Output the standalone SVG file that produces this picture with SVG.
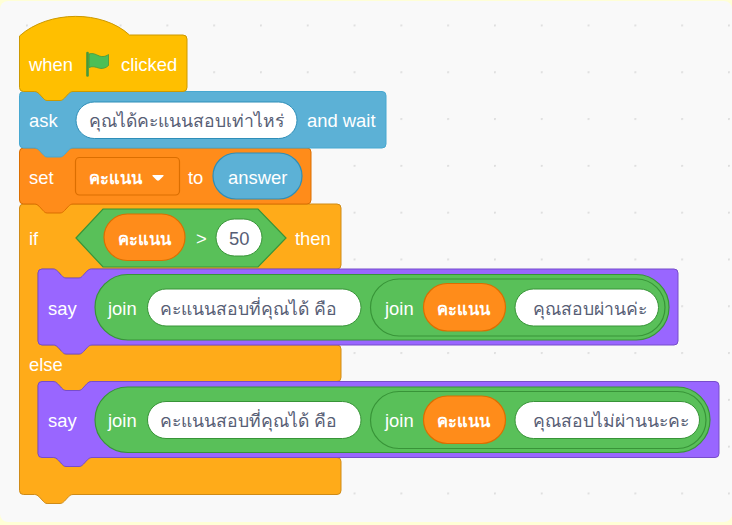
<svg xmlns="http://www.w3.org/2000/svg" width="732" height="525" viewBox="0 0 732 525">
<style>
text{font-family:"Liberation Sans",Arial,"DejaVu Sans",sans-serif;font-size:18.4px;fill:#fff}
.t{font-size:17.6px}
.in{fill:#575e75}
.b{font-weight:bold;font-size:16.5px}
.w{fill:#fff;stroke:#389438;stroke-width:1}
.g{fill:#59c059;stroke:#389438;stroke-width:1.2}
.o{fill:#ff8c1a;stroke:#db6e00;stroke-width:1.2}
.c{fill:#ffab19;stroke:#cf8b17;stroke-width:1}
.p{fill:#9966ff;stroke:#774dcb;stroke-width:1}
</style>
<defs>
<pattern id="dots" x="26" y="24.5" width="46.8" height="46.8" patternUnits="userSpaceOnUse">
<circle cx="0.8" cy="0.8" r="1.2" fill="#dedede"/>
</pattern>
</defs>
<rect width="732" height="525" fill="#ffffd6"/>
<rect x="0" y="1" width="732" height="521" rx="8" fill="#f9f9f9"/>
<rect x="0" y="1" width="732" height="521" rx="8" fill="url(#dots)"/>

<g id="if-block">
<path class="c" d="M19.5 208 a4 4 0 0 1 4 -4 H337 a4 4 0 0 1 4 4 V265 a4 4 0 0 1 -4 4 H92 c-2 0 -3 1 -4.500 2.200 l-4 4.400 c-1 1 -2.400 2.400 -4.400 2.400 h-13 c-2 0 -3 -1.400 -4 -2.400 l-4 -4.400 c-1.500 -1.200 -2.500 -2.200 -4.500 -2.200 H42 a4 4 0 0 0 -4 4 V341 a4 4 0 0 0 4 4 H53 c2 0 3 1 4.500 2.200 l4 4.400 c1 1 2.400 2.400 4.400 2.400 h13 c2 0 3 -1.400 4 -2.400 l4 -4.400 c1.500 -1.200 2.500 -2.200 4.500 -2.200 H337 a4 4 0 0 1 4 4 V377.500 a4 4 0 0 1 -4 4 H92 c-2 0 -3 1 -4.500 2.200 l-4 4.400 c-1 1 -2.400 2.400 -4.400 2.400 h-13 c-2 0 -3 -1.400 -4 -2.400 l-4 -4.400 c-1.500 -1.200 -2.500 -2.200 -4.500 -2.200 H42 a4 4 0 0 0 -4 4 V453.500 a4 4 0 0 0 4 4 H53 c2 0 3 1 4.500 2.200 l4 4.400 c1 1 2.400 2.400 4.400 2.400 h13 c2 0 3 -1.400 4 -2.400 l4 -4.400 c1.500 -1.200 2.500 -2.200 4.500 -2.200 H337 a4 4 0 0 1 4 4 V490.500 a4 4 0 0 1 -4 4 H73 c-2 0 -3 1 -4.500 2.200 l-4 4.400 c-1 1 -2.400 2.400 -4.400 2.400 h-13 c-2 0 -3 -1.400 -4 -2.400 l-4 -4.400 c-1.500 -1.200 -2.500 -2.200 -4.500 -2.200 H23.500 a4 4 0 0 1 -4 -4 Z"/>
<text x="29" y="245">if</text>
<polygon class="g" points="76,238 103,209 258,209 286,238 258,267 103,267"/>
<rect class="o" x="104" y="214" width="81" height="46.500" rx="23.250"/>
<text class="b" x="118" y="245">คะแนน</text>
<text x="196" y="245">&gt;</text>
<rect class="w" x="216" y="219" width="46" height="37" rx="18.500"/>
<text class="in" x="229" y="245">50</text>
<text x="295" y="245">then</text>
<text x="29" y="371">else</text>
</g>

<g id="set-block">
<path fill="#ff8c1a" stroke="#db6e00" d="M19.5 152 a4 4 0 0 1 4 -4 H307 a4 4 0 0 1 4 4 V200 a4 4 0 0 1 -4 4 H73 c-2 0 -3 1 -4.500 2.200 l-4 4.400 c-1 1 -2.400 2.400 -4.400 2.400 h-13 c-2 0 -3 -1.400 -4 -2.400 l-4 -4.400 c-1.500 -1.200 -2.500 -2.200 -4.500 -2.200 H23.500 a4 4 0 0 1 -4 -4 Z"/>
<text x="29" y="184">set</text>
<rect x="75.500" y="157.500" width="104" height="37.500" rx="4" fill="#ff8c1a" stroke="#db6e00" stroke-width="1.200"/>
<text class="b" x="89" y="184">คะแนน</text>
<path d="M153 175 h10 q1 0 .5 1 l-4 4 q-1.500 1.500 -3 0 l-4 -4 q-.5 -1 .5 -1 Z" fill="#fff"/>
<text x="188" y="184">to</text>
<rect x="213" y="153" width="89" height="46" rx="23" fill="#5cb1d6" stroke="#2e8eb8" stroke-width="1.200"/>
<text x="228" y="184">answer</text>
</g>

<g id="ask-block">
<path fill="#5cb1d6" stroke="#47a8d1" d="M19.5 95.500 a4 4 0 0 1 4 -4 H382 a4 4 0 0 1 4 4 V144 a4 4 0 0 1 -4 4 H73 c-2 0 -3 1 -4.500 2.200 l-4 4.400 c-1 1 -2.400 2.400 -4.400 2.400 h-13 c-2 0 -3 -1.400 -4 -2.400 l-4 -4.400 c-1.500 -1.200 -2.500 -2.200 -4.500 -2.200 H23.500 a4 4 0 0 1 -4 -4 Z"/>
<text x="29" y="127">ask</text>
<rect x="76" y="102" width="221" height="36.500" rx="18.250" fill="#fff" stroke="#2e8eb8"/>
<text class="in t" x="89" y="127">คุณได้คะแนนสอบเท่าไหร่</text>
<text x="307" y="127">and wait</text>
</g>

<g id="hat-block">
<path fill="#ffbf00" stroke="#cc9900" d="M19.500 36 c29 -26 83 -26 110 -1 H183 a4 4 0 0 1 4 4 V87.500 a4 4 0 0 1 -4 4 H73 c-2 0 -3 1 -4.500 2.200 l-4 4.400 c-1 1 -2.400 2.400 -4.400 2.400 h-13 c-2 0 -3 -1.400 -4 -2.400 l-4 -4.400 c-1.500 -1.200 -2.500 -2.200 -4.500 -2.200 H23.500 a4 4 0 0 1 -4 -4 Z"/>
<text x="29" y="71">when</text>
<path d="M87.500 53 V75.500" stroke="#45993d" stroke-width="2.600" stroke-linecap="round" fill="none"/>
<path d="M89 54 c6 -2 9 3 14 2.500 c2 0 4 -1 5.500 -2 v11 c-3 3 -7 3.500 -10 2.500 c-3 -1 -6 -2 -9.500 -.5 Z" fill="#4cbf56" stroke="#45993d" stroke-width=".8"/>
<text x="121" y="71">clicked</text>
</g>

<g id="say-pass">
<path class="p" d="M38 273 a4 4 0 0 1 4 -4 H53 c2 0 3 1 4.500 2.200 l4 4.400 c1 1 2.400 2.400 4.400 2.400 h13 c2 0 3 -1.400 4 -2.400 l4 -4.400 c1.500 -1.200 2.500 -2.200 4.500 -2.200 H674 a4 4 0 0 1 4 4 V341 a4 4 0 0 1 -4 4 H92 c-2 0 -3 1 -4.500 2.200 l-4 4.400 c-1 1 -2.400 2.400 -4.400 2.400 h-13 c-2 0 -3 -1.400 -4 -2.400 l-4 -4.400 c-1.500 -1.200 -2.500 -2.200 -4.500 -2.200 H42 a4 4 0 0 1 -4 -4 Z"/>
<text x="48" y="315">say</text>
<rect class="g" x="95" y="274.500" width="574" height="65.500" rx="32.750"/>
<text x="108" y="315">join</text>
<rect class="w" x="147.500" y="289" width="213.500" height="37" rx="18.500"/>
<text class="in t" x="160" y="315">คะแนนสอบที่คุณได้ คือ</text>
<rect class="g" x="370.500" y="279" width="294.500" height="57" rx="28.500"/>
<text x="385" y="315">join</text>
<rect class="o" x="423.500" y="283.500" width="82" height="47.500" rx="23.750"/>
<text class="b" x="437" y="315">คะแนน</text>
<rect class="w" x="515" y="289" width="143.500" height="37" rx="18.500"/>
<text class="in t" x="533" y="315">คุณสอบผ่านค่ะ</text>
</g>

<g id="say-fail">
<path class="p" d="M38 385.500 a4 4 0 0 1 4 -4 H53 c2 0 3 1 4.500 2.200 l4 4.400 c1 1 2.400 2.400 4.400 2.400 h13 c2 0 3 -1.400 4 -2.400 l4 -4.400 c1.500 -1.200 2.500 -2.200 4.500 -2.200 H715 a4 4 0 0 1 4 4 V453.500 a4 4 0 0 1 -4 4 H92 c-2 0 -3 1 -4.500 2.200 l-4 4.400 c-1 1 -2.400 2.400 -4.400 2.400 h-13 c-2 0 -3 -1.400 -4 -2.400 l-4 -4.400 c-1.500 -1.200 -2.500 -2.200 -4.500 -2.200 H42 a4 4 0 0 1 -4 -4 Z"/>
<text x="48" y="427">say</text>
<rect class="g" x="95" y="387" width="615" height="65.500" rx="32.750"/>
<text x="108" y="427">join</text>
<rect class="w" x="147.500" y="401.500" width="213.500" height="37" rx="18.500"/>
<text class="in t" x="160" y="427">คะแนนสอบที่คุณได้ คือ</text>
<rect class="g" x="370.500" y="391.500" width="335.500" height="57" rx="28.500"/>
<text x="385" y="427">join</text>
<rect class="o" x="423.500" y="396" width="82" height="47.500" rx="23.750"/>
<text class="b" x="437" y="427">คะแนน</text>
<rect class="w" x="515" y="401.500" width="184.500" height="37" rx="18.500"/>
<text class="in t" x="533" y="427">คุณสอบไม่ผ่านนะคะ</text>
</g>
</svg>
